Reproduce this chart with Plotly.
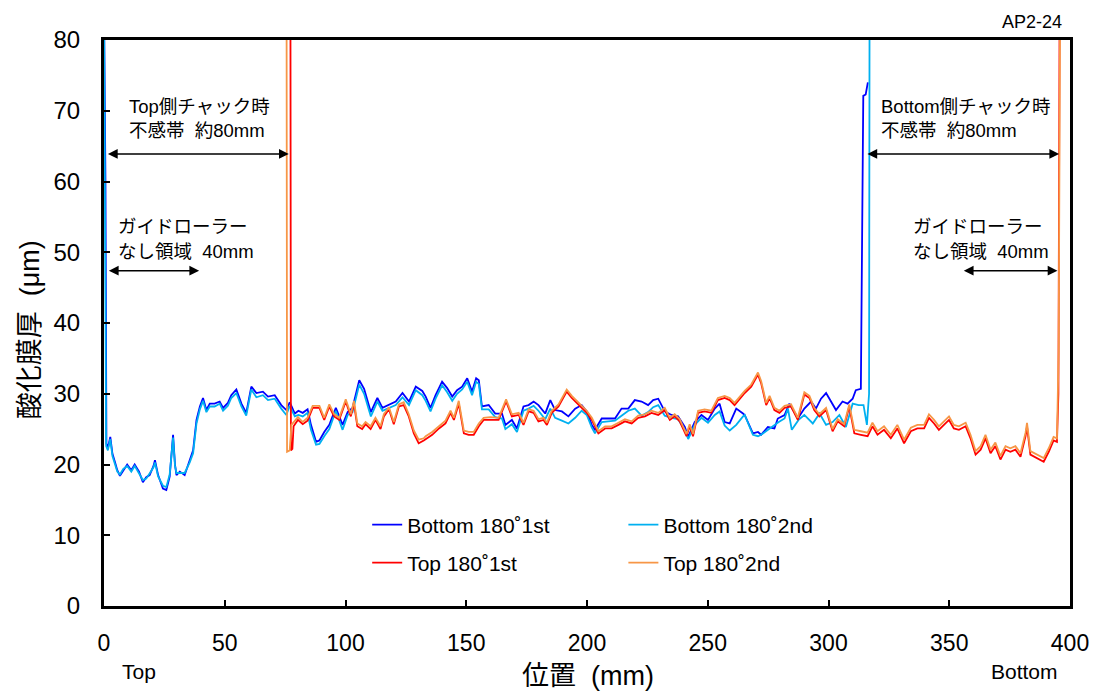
import plotly.graph_objects as go

# ---------------- data ----------------
bottom1_x = [0, 0.6, 1.0, 1.6, 2.6, 3.5, 4.5, 5.5, 6.6, 8.0, 9.6, 11.3, 12.7, 14.5, 16.1, 17.5, 18.9, 20.5, 21.1, 22.4,
             24.4, 25.8, 27.2, 28.6, 29.4, 30.0, 31.4, 33.4, 35.5, 36.9, 38.3, 39.7, 41.0, 42.4, 43.8, 45.8, 47.9, 49.3,
             51.3, 52.7, 54.8, 56.9, 58.9, 61.0, 63.1, 65.8, 67.9, 70.7, 73.4, 75.5, 76.9, 79.0, 80.5, 82.3, 84.3, 85.7,
             87.8, 89.2, 91.2, 93.3, 96.0, 98.8, 100.9, 102.9, 105.7, 107.7, 110.5, 113.2, 115.3, 118.1, 120.8, 123.6,
             126.3, 129.1, 131.8, 133.2, 135.2, 137.3, 140.0, 142.1, 144.2, 146.2, 148.3, 150.4, 152.4, 154.1, 155.2,
             156.5, 159.3, 162.0, 164.8, 166.2, 168.9, 171.0, 173.7, 175.8, 177.9, 179.9, 182.7, 184.8, 186.8, 189.6,
             192.3, 195.1, 197.8, 199.9, 202.0, 203.3, 206.1, 208.8, 211.6, 214.3, 217.1, 219.8, 222.6, 225.3, 227.4,
             229.5, 232.2, 235.0, 237.7, 240.5, 241.9, 244.6, 247.4, 250.1, 252.9, 254.9, 257.0, 259.1, 261.8, 264.6,
             265.3, 268.7, 270.8, 272.1, 274.9, 277.6, 279.0, 281.8, 283.8, 286.6, 287.3, 290.0, 292.8, 294.8, 296.9,
             299.0, 301.0, 303.1, 305.8, 307.9, 310.0, 311.3, 313.4, 314.0, 314.4, 315.4, 315.8, 316.3]
bottom1_y = [85, 60, 23.0, 22.3, 23.9, 21.5, 20.4, 19.2, 18.4, 19.2, 20.0, 19.2, 20.0, 19.0, 17.5, 18.2, 18.5, 19.8, 20.6, 18.5,
             16.6, 16.4, 18.3, 24.2, 20.0, 18.5, 19.0, 18.5, 20.6, 22.0, 26.3, 28.2, 29.4, 27.7, 28.6, 28.6, 28.9, 28.0,
             28.7, 29.8, 30.6, 28.6, 27.3, 31.0, 30.1, 30.3, 29.6, 29.8, 28.4, 27.7, 28.8, 27.2, 27.6, 27.3, 27.8, 25.6,
             23.2, 23.4, 24.6, 25.6, 28.0, 25.6, 27.4, 28.0, 31.9, 30.7, 27.4, 29.4, 28.0, 28.5, 28.9, 30.1,
             28.9, 31.0, 30.4, 29.6, 28.0, 29.8, 31.7, 30.8, 29.6, 30.5, 31.0, 32.2, 30.3, 32.2, 31.9,
             28.2, 28.4, 27.2, 27.2, 25.6, 26.3, 25.1, 28.2, 28.4, 28.9, 28.4, 27.2, 29.1, 27.7, 27.5,
             26.8, 27.9, 28.4, 27.5, 25.6, 24.9, 26.5, 26.5, 26.5, 27.9, 27.9, 29.1, 28.9, 28.4, 29.1,
             29.3, 27.5, 27.0, 26.8, 25.3, 23.9, 26.0, 27.0, 26.3, 27.9, 28.6, 26.0, 25.8, 27.9, 27.2,
             27.0, 24.4, 24.6, 24.2, 25.3, 25.1, 26.5, 27.0, 28.6, 27.0, 26.5, 27.9, 28.9, 27.9, 29.3,
             30.1, 28.9, 27.7, 28.9, 28.6, 29.3, 30.5, 30.7, 62.0, 72.1, 72.3, 73.4, 74.0]

bottom2_x = [0, 0.4, 0.9, 1.6, 2.6, 3.5, 4.5, 5.5, 6.6, 8.0, 9.6, 11.3, 12.7, 14.5, 16.1, 17.5, 18.9, 20.5, 21.1, 22.4,
             24.4, 25.8, 27.2, 28.6, 29.4, 30.0, 31.4, 33.4, 35.5, 36.9, 38.3, 39.7, 41.0, 42.4, 43.8, 45.8, 47.9, 49.3,
             51.3, 52.7, 54.8, 56.9, 58.9, 61.0, 63.1, 65.8, 67.9, 70.7, 73.4, 75.5, 76.9, 79.0, 80.5, 82.3, 84.3, 85.7,
             87.8, 89.2, 91.2, 93.3, 96.0, 98.8, 100.9, 102.9, 105.7, 107.7, 110.5, 113.2, 115.3, 118.1, 120.8, 123.6,
             126.3, 129.1, 131.8, 133.2, 135.2, 137.3, 140.0, 142.1, 144.2, 146.2, 148.3, 150.4, 152.4, 154.1, 155.2,
             156.5, 159.3, 162.0, 164.8, 166.2, 168.9, 171.0, 173.7, 175.8, 177.9, 179.9, 182.7, 184.8, 186.8, 189.6,
             192.3, 195.1, 197.8, 199.9, 202.0, 203.3, 206.1, 208.8, 211.6, 214.3, 217.1, 219.8, 222.6, 225.3, 227.4,
             229.5, 232.2, 235.0, 237.7, 240.5, 241.9, 244.6, 247.4, 250.1, 252.9, 254.9, 257.0, 259.1, 261.8, 264.6,
             265.3, 268.7, 270.8, 272.1, 274.9, 277.6, 279.4, 281.8, 283.2, 284.8, 287.6, 290.0, 293.5, 296.3, 299.0,
             301.7, 304.5, 307.2, 310.0, 312.5, 314.5, 315.9, 316.8, 317.0]
bottom2_y = [85, 60, 22.6, 22.0, 23.6, 21.2, 20.0, 19.0, 18.6, 19.4, 19.8, 19.0, 19.8, 18.8, 17.8, 18.0, 18.8, 19.6, 20.3, 18.3,
             17.0, 16.8, 18.6, 23.8, 19.8, 18.8, 18.8, 18.8, 20.3, 21.6, 25.8, 27.8, 29.0, 27.4, 28.2, 28.2, 28.6, 27.6,
             28.3, 29.4, 30.1, 28.2, 26.9, 30.6, 29.5, 29.8, 29.1, 29.3, 27.9, 27.0, 28.3, 26.8, 27.0, 26.8, 27.3, 24.9,
             22.8, 22.9, 24.0, 25.0, 27.6, 24.9, 27.0, 27.4, 31.3, 30.0, 26.8, 28.9, 27.6, 28.0, 28.4, 29.5,
             28.4, 30.5, 29.8, 29.0, 27.5, 29.3, 31.2, 30.2, 29.0, 30.0, 30.6, 31.7, 29.8, 31.7, 31.4,
             27.8, 27.8, 26.7, 26.5, 25.0, 25.7, 24.6, 27.6, 27.9, 28.3, 27.6, 26.4, 27.9, 26.6, 26.2,
             25.8, 26.6, 27.6, 27.0, 25.2, 24.4, 26.0, 26.1, 26.2, 26.9, 27.6, 27.9, 26.9, 27.4, 28.1,
             28.4, 26.9, 26.6, 26.4, 24.9, 23.6, 25.6, 26.6, 25.9, 27.0, 27.5, 25.5, 24.8, 25.6, 26.8,
             27.0, 24.2, 24.0, 24.2, 24.9, 25.6, 26.0, 26.5, 27.9, 24.9, 26.3, 27.0, 25.8, 27.2, 25.6,
             26.0, 27.0, 25.3, 28.6, 28.4, 28.4, 25.6, 30.0, 85]

top1_x = [77.2, 77.4, 78.0, 78.5, 80.3, 82.3, 84.3, 86.4, 89.2, 91.2, 93.3, 95.3, 97.4, 100.1, 102.2, 103.5, 104.9,
          106.9, 108.3, 110.4, 112.4, 114.5, 115.9, 118.0, 120.0, 122.1, 124.1, 126.2, 128.3, 130.3, 132.4, 133.2,
          135.9, 138.7, 141.4, 143.5, 144.9, 146.9, 149.0, 151.0, 153.1, 155.2, 157.2, 160.0, 163.4, 166.5, 168.9,
          171.7, 173.7, 175.8, 177.9, 179.9, 182.0, 183.4, 185.4, 188.2, 191.6, 193.7, 195.8, 197.8, 199.9, 202.0,
          204.7, 207.5, 210.2, 213.0, 215.7, 218.5, 221.2, 224.0, 226.7, 229.5, 232.2, 234.3, 236.3, 238.4, 241.2,
          242.5, 243.9, 246.0, 248.7, 251.5, 254.2, 257.0, 259.1, 261.1, 263.9, 265.3, 268.0, 270.8, 272.1, 274.2,
          275.6, 277.6, 279.7, 281.8, 284.5, 287.3, 290.0, 292.1, 294.1, 296.2, 299.0, 301.7, 303.8, 306.5, 308.6,
          310.7, 313.4, 316.2, 318.2, 320.3, 323.0, 325.8, 328.5, 331.3, 334.1, 336.8, 339.6, 341.6, 343.7, 345.7,
          347.8, 349.9, 351.9, 354.0, 356.8, 358.8, 360.9, 363.0, 365.0, 367.1, 369.1, 371.2, 373.3, 375.3, 377.4,
          379.5, 381.6, 382.2, 383.6, 386.3, 389.1, 391.2, 393.2, 394.6, 395.2, 395.7]
top1_y = [85, 22.0, 22.2, 25.4, 26.3, 25.7, 26.2, 28.0, 28.0, 26.3, 28.2, 26.8, 26.3, 28.9, 26.8, 28.6, 25.4,
          25.0, 25.7, 25.0, 26.3, 25.0, 26.8, 27.8, 25.7, 28.2, 28.4, 26.8, 24.4, 23.0, 23.4, 23.6,
          24.2, 25.1, 25.8, 27.3, 26.3, 28.6, 24.4, 24.2, 24.2, 25.4, 26.3, 26.3, 26.3, 28.9, 26.8,
          27.0, 25.6, 27.5, 27.3, 26.1, 26.3, 25.6, 27.3, 28.2, 30.3, 29.4, 28.7, 28.0, 27.3, 26.3,
          24.4, 25.1, 25.1, 25.6, 26.1, 25.8, 26.6, 26.8, 27.3, 27.0, 27.7, 26.3, 26.8, 26.1, 24.0,
          25.4, 24.0, 27.3, 27.5, 27.3, 29.1, 29.4, 29.1, 28.4, 29.6, 30.1, 31.0, 32.7, 31.5, 28.4,
          29.4, 27.7, 27.3, 28.0, 28.2, 26.3, 29.9, 29.4, 27.7, 26.8, 27.7, 24.7, 26.1, 25.4, 28.2,
          24.4, 24.2, 24.0, 25.4, 24.2, 24.9, 23.7, 25.1, 23.0, 24.7, 25.1, 25.1, 26.6, 25.8, 24.9,
          25.6, 26.3, 25.1, 24.9, 25.4, 23.7, 21.4, 22.1, 23.7, 21.6, 22.6, 20.7, 22.1, 21.8, 22.1,
          21.1, 24.0, 25.4, 21.4, 20.9, 20.4, 21.8, 23.4, 23.2, 30.0, 85]

top2_x = [75.6, 75.8, 76.9, 77.6, 80.3, 82.3, 84.3, 86.4, 89.2, 91.2, 93.3, 95.3, 97.4, 100.1, 102.2, 103.5, 104.9,
          106.9, 108.3, 110.4, 112.4, 114.5, 115.9, 118.0, 120.0, 122.1, 124.1, 126.2, 128.3, 130.3, 132.4, 133.2,
          135.9, 138.7, 141.4, 143.5, 144.9, 146.9, 149.0, 151.0, 153.1, 155.2, 157.2, 160.0, 163.4, 166.5, 168.9,
          171.7, 173.7, 175.8, 177.9, 179.9, 182.0, 183.4, 185.4, 188.2, 191.6, 193.7, 195.8, 197.8, 199.9, 202.0,
          204.7, 207.5, 210.2, 213.0, 215.7, 218.5, 221.2, 224.0, 226.7, 229.5, 232.2, 234.3, 236.3, 238.4, 241.2,
          242.5, 243.9, 246.0, 248.7, 251.5, 254.2, 257.0, 259.1, 261.1, 263.9, 265.3, 268.0, 270.8, 272.1, 274.2,
          275.6, 277.6, 279.7, 281.8, 284.5, 287.3, 290.0, 292.1, 294.1, 296.2, 299.0, 301.7, 303.8, 306.5, 308.6,
          310.7, 313.4, 316.2, 318.2, 320.3, 323.0, 325.8, 328.5, 331.3, 334.1, 336.8, 339.6, 341.6, 343.7, 345.7,
          347.8, 349.9, 351.9, 354.0, 356.8, 358.8, 360.9, 363.0, 365.0, 367.1, 369.1, 371.2, 373.3, 375.3, 377.4,
          379.5, 381.6, 382.2, 383.6, 386.3, 389.1, 391.2, 393.2, 394.6, 395.3, 395.9]
top2_y = [85, 21.8, 22.0, 25.6, 26.7, 26.0, 26.6, 28.3, 28.3, 26.6, 28.5, 27.1, 26.6, 29.2, 27.1, 29.0, 25.8,
          25.4, 26.0, 25.4, 26.6, 25.4, 27.1, 28.1, 26.0, 28.5, 28.8, 27.1, 24.8, 23.5, 23.7, 24.0,
          24.6, 25.4, 26.2, 27.6, 26.6, 29.0, 24.8, 24.6, 24.6, 25.8, 26.6, 26.7, 26.6, 29.2, 27.1,
          27.3, 25.9, 27.8, 27.6, 26.4, 26.6, 25.9, 27.6, 28.5, 30.6, 29.7, 29.0, 28.3, 27.6, 26.6,
          24.7, 25.4, 25.4, 25.9, 26.4, 26.1, 26.9, 27.1, 27.6, 27.3, 28.0, 26.6, 27.1, 26.4, 24.3,
          25.7, 24.3, 27.6, 27.8, 27.6, 29.4, 29.7, 29.4, 28.7, 29.9, 30.4, 31.3, 33.0, 31.8, 28.7,
          29.7, 28.0, 27.6, 28.3, 28.5, 26.6, 30.2, 29.7, 28.0, 27.1, 28.0, 25.0, 26.4, 25.7, 28.5,
          24.9, 24.7, 24.5, 25.9, 24.7, 25.4, 24.2, 25.6, 23.5, 25.2, 25.6, 25.6, 27.1, 26.3, 25.4,
          26.1, 26.8, 25.6, 25.4, 25.9, 24.2, 21.9, 22.6, 24.2, 22.1, 23.1, 21.2, 22.6, 22.3, 22.6,
          21.6, 24.5, 25.9, 21.9, 21.4, 20.9, 22.3, 23.9, 23.7, 36.0, 85]

series_names = ["Bottom 180˚1st", "Bottom 180˚2nd", "Top 180˚1st", "Top 180˚2nd"]
x_ticks = [0, 50, 100, 150, 200, 250, 300, 350, 400]
y_ticks = [0, 10, 20, 30, 40, 50, 60, 70, 80]

# ---------------- figure ----------------
W, H = 1101, 695
L, R, T, B = 104, 28, 40, 89
PW, PH = W - L - R, H - T - B

def px(xp):
    return (xp - L) / PW

def py(yp):
    return (H - B - yp) / PH

LAT = "Liberation Sans, Arial, sans-serif"
CJK = "Liberation Sans, Noto Sans CJK JP, sans-serif"
SP = "\u00a0\u00a0"

colors = ["#0000FF", "#00B0F0", "#FF0000", "#F79646"]
xs = [bottom1_x, bottom2_x, top1_x, top2_x]
ys = [bottom1_y, bottom2_y, top1_y, top2_y]
legends = ["legend", "legend3", "legend2", "legend4"]

fig = go.Figure()
for name, c, x, y, lg in zip(series_names, colors, xs, ys, legends):
    fig.add_trace(go.Scatter(x=x, y=y, mode="lines", name=name, showlegend=True,
                             line=dict(color=c, width=1.8), legend=lg))

leg_common = dict(bgcolor="rgba(0,0,0,0)", borderwidth=0, xanchor="left", yanchor="middle",
                  font=dict(family=LAT, size=21, color="black"))
fig.update_layout(
    width=W, height=H,
    showlegend=True,
    margin=dict(l=L, r=R, t=T, b=B, pad=0),
    paper_bgcolor="white", plot_bgcolor="white",
    legend=dict(x=px(368), y=py(525), **leg_common),
    legend2=dict(x=px(368), y=py(563), **leg_common),
    legend3=dict(x=px(625), y=py(525), **leg_common),
    legend4=dict(x=px(625), y=py(563), **leg_common),
    xaxis=dict(range=[0, 400], tickvals=x_ticks, ticktext=[str(v) for v in x_ticks],
               showgrid=False, zeroline=False, showline=True, linecolor="black", linewidth=3,
               mirror=True, ticks="inside", ticklen=6, tickwidth=2, tickcolor="black",
               ticklabelstandoff=14, tickfont=dict(family=LAT, size=23, color="black")),
    yaxis=dict(range=[0, 80], tickvals=y_ticks, ticktext=[str(v) for v in y_ticks],
               showgrid=False, zeroline=False, showline=True, linecolor="black", linewidth=3,
               mirror=True, ticks="inside", ticklen=6, tickwidth=2, tickcolor="black",
               ticklabelstandoff=16, tickfont=dict(family=LAT, size=24, color="black")),
)

def txt(text, xp, yp, size, anchor="left", angle=0):
    fig.add_annotation(text=text, xref="paper", yref="paper", x=px(xp), y=py(yp),
                       xanchor=anchor, yanchor="middle", showarrow=False, textangle=angle,
                       font=dict(family=CJK, size=size, color="black"))

# axis titles and side labels
txt("酸化膜厚" + SP + "(μm)", 30, 330, 27, anchor="center", angle=-90)
txt("位置" + SP + "(mm)", 590, 676, 27, anchor="center")
txt("Top", 139, 671, 21, anchor="center")
txt("Bottom", 1027, 671, 21, anchor="center")
txt("AP2-24", 1067, 22, 18, anchor="right")

# region notes
NS = 18.5
txt("Top側チャック時", 127, 106, NS)
txt("不感帯" + SP + "約80mm", 127, 130, NS)
txt("ガイドローラー", 116, 226, NS)
txt("なし領域" + SP + "40mm", 116, 251, NS)
txt("Bottom側チャック時", 881, 106, NS)
txt("不感帯" + SP + "約80mm", 881, 130, NS)
txt("ガイドローラー", 914, 226, NS)
txt("なし領域" + SP + "40mm", 914, 251, NS)

def darrow(x0, x1, yv):
    fig.add_annotation(x=x1, y=yv, ax=x0, ay=yv, xref="x", yref="y", axref="x", ayref="y",
                       text="", showarrow=True, arrowside="end+start", arrowhead=2,
                       arrowsize=1.3, arrowwidth=1.5, arrowcolor="black",
                       standoff=0, startstandoff=0)

darrow(1.0, 76.5, 63.9)
darrow(1.4, 39.4, 47.4)
darrow(315.5, 395.5, 63.9)
darrow(355.4, 394.8, 47.4)

fig.write_html("out.html")
